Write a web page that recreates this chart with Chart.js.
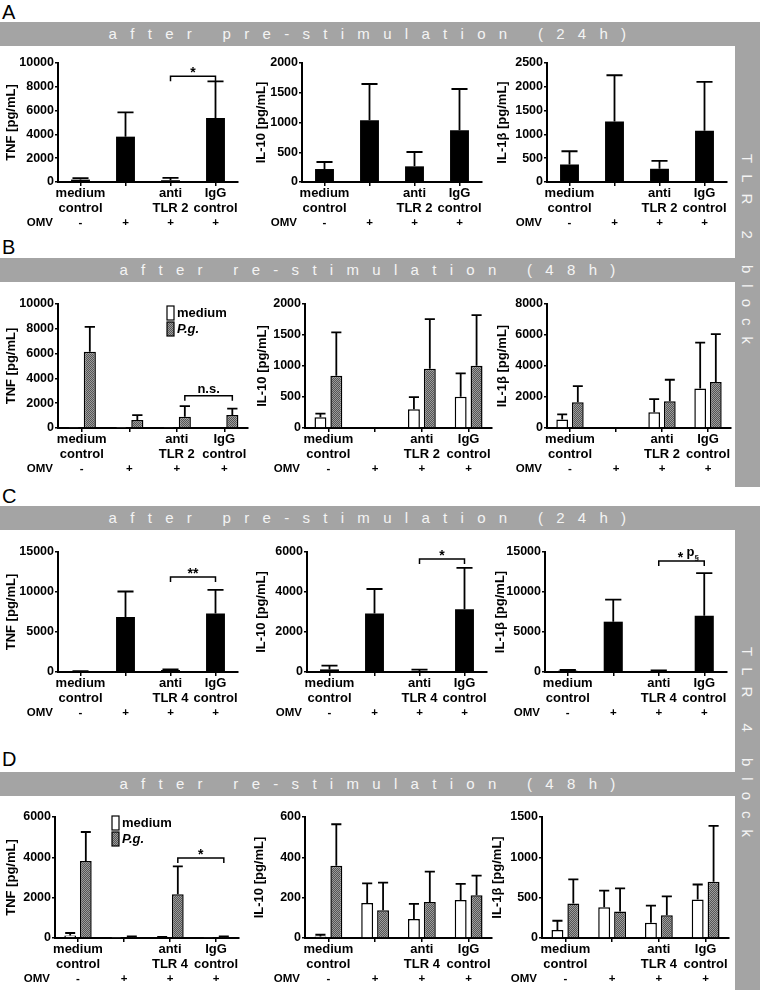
<!DOCTYPE html>
<html>
<head>
<meta charset="utf-8">
<script src="https://cdn.jsdelivr.net/npm/chart.js@4.4.1/dist/chart.umd.min.js"></script>
<style>
  body { margin: 0; background: #fff; width: 760px; height: 991px; position: relative; overflow: hidden;
         font-family: "Liberation Sans", Arial, Helvetica, sans-serif; }
  .band { position: absolute; left: 0; width: 760px; height: 24px; background: #a4a4a4; }
  .band div { position: absolute; left: 0; top: 0; width: 735px; padding-left: 13px; box-sizing: border-box;
              text-align: center; line-height: 24px; font-size: 15px; letter-spacing: 13.3px; color: #f4f4f4; white-space: pre; }
  .col { position: absolute; left: 735px; width: 25px; background: #a4a4a4; }
  .col div { position: absolute; left: 0; top: 0; width: 25px; height: 100%; writing-mode: vertical-rl;
             text-align: center; line-height: 25px; font-size: 15px; letter-spacing: 11px; color: #f4f4f4; white-space: pre; }
  .letter { position: absolute; left: 2px; font-size: 20px; line-height: 20px; color: #000; }
  canvas { position: absolute; }
</style>
</head>
<body>
<div class="letter" style="top:2px">A</div>
<div class="letter" style="top:237px">B</div>
<div class="letter" style="top:486px">C</div>
<div class="letter" style="top:749px">D</div>

<div class="band" style="top:22px"><div>after pre-stimulation (24h)</div></div>
<div class="band" style="top:258px"><div>after re-stimulation (48h)</div></div>
<div class="band" style="top:506px"><div>after pre-stimulation (24h)</div></div>
<div class="band" style="top:772px"><div>after re-stimulation (48h)</div></div>

<div class="col" style="top:22px;height:465px"><div>TLR 2 block</div></div>
<div class="col" style="top:506px;height:484px"><div>TLR 4 block</div></div>

<script>
// categories and labels
const tlr2Groups = [["medium", "control"], "", ["anti", "TLR 2"], ["IgG", "control"]];
const tlr4Groups = [["medium", "control"], "", ["anti", "TLR 4"], ["IgG", "control"]];
const omvSigns = ["-", "+", "+", "+"];
const seriesNames = ["medium", "P.g."];
const yTitles = ["TNF [pg/mL]", "IL-10 [pg/mL]", "IL-1β [pg/mL]"];

// y axis ranges per row: [TNF, IL-10, IL-1b]
const rowAMax = [10000, 2000, 2500];
const rowAStep = [2000, 500, 500];
const rowBMax = [10000, 2000, 8000];
const rowBStep = [2000, 500, 2000];
const rowCMax = [15000, 6000, 15000];
const rowCStep = [5000, 2000, 5000];
const rowDMax = [6000, 600, 1500];
const rowDStep = [2000, 200, 500];

// A: TLR2 block, after pre-stimulation (mean, top of error bar)
const aTnf = [200, 3810, 150, 5380];
const aTnfErr = [330, 5850, 340, 8460];
const aIl10 = [218, 1036, 263, 868];
const aIl10Err = [336, 1647, 504, 1563];
const aIl1b = [368, 1271, 278, 1076];
const aIl1bErr = [646, 2243, 444, 2104];

// B: TLR2 block, after re-stimulation
const bTnfMed = [90, 30, 40, 50];
const bTnfMedErr = [null, null, null, null];
const bTnfPg = [6140, 650, 910, 1040];
const bTnfPgErr = [8150, 1040, 1770, 1570];
const bIl10Med = [173, null, 303, 503];
const bIl10MedErr = [232, null, 497, 881];
const bIl10Pg = [843, null, 957, 1005];
const bIl10PgErr = [1541, null, 1757, 1822];
const bIl1bMed = [548, null, 1009, 2544];
const bIl1bMedErr = [877, null, 1864, 5504];
const bIl1bPg = [1667, null, 1732, 2961];
const bIl1bPgErr = [2697, null, 3114, 6053];

// C: TLR4 block, after pre-stimulation
const cTnf = [80, 6890, 250, 7310];
const cTnfErr = [120, 10060, 340, 10270];
const cIl10 = [130, 2925, 50, 3140];
const cIl10Err = [314, 4150, 116, 5207];
const cIl1b = [164, 6290, 123, 7030];
const cIl1bErr = [247, 9040, 205, 12370];

// D: TLR4 block, after re-stimulation
const dTnfMed = [130, 10, 40, 20];
const dTnfMedErr = [248, null, 60, null];
const dTnfPg = [3820, 50, 2165, 60];
const dTnfPgErr = [5256, 80, 3554, 80];
const dIl10Med = [8, 173, 94, 189];
const dIl10MedErr = [16, 271, 169, 268];
const dIl10Pg = [358, 137, 179, 212];
const dIl10PgErr = [564, 275, 329, 309];
const dIl1bMed = [99, 381, 190, 476];
const dIl1bMedErr = [214, 587, 401, 663];
const dIl1bPg = [429, 329, 282, 698];
const dIl1bPgErr = [726, 615, 516, 1389];

// significance bracket heights
const aTnfSig = 8880;
const bTnfSig = 2610;
const cTnfSig = 11870;
const cIl10Sig = 5650;
const cIl1bSig = 13890;
const dTnfSig = 3967;

Chart.defaults.font.family = "'Liberation Sans', Arial, Helvetica, sans-serif";
Chart.defaults.color = "#000";
Chart.defaults.animation = false;

// Draws the upper error whiskers
const errorBarPlugin = {
  id: "errorBars",
  afterDatasetsDraw(chart) {
    const ctx = chart.ctx;
    const yScale = chart.scales.y;
    chart.data.datasets.forEach(function (ds, i) {
      const meta = chart.getDatasetMeta(i);
      meta.data.forEach(function (bar, j) {
        const top = ds.errTop ? ds.errTop[j] : null;
        const val = ds.data[j];
        if (top == null || val == null || top <= val) return;
        const yTop = yScale.getPixelForValue(top);
        const cap = (bar.width * 0.85) / 2;
        ctx.save();
        ctx.strokeStyle = "#000";
        ctx.lineWidth = 1.8;
        ctx.beginPath();
        ctx.moveTo(bar.x, bar.y);
        ctx.lineTo(bar.x, yTop);
        ctx.moveTo(bar.x - cap, yTop);
        ctx.lineTo(bar.x + cap, yTop);
        ctx.stroke();
        ctx.restore();
      });
    });
  },
};

// Draws significance brackets
const sigPlugin = {
  id: "sig",
  afterDatasetsDraw(chart, args, opts) {
    if (!opts || opts.value == null) return;
    const ctx = chart.ctx;
    const a = chart.getDatasetMeta(opts.from[0]).data[opts.from[1]];
    const b = chart.getDatasetMeta(opts.to[0]).data[opts.to[1]];
    const y = chart.scales.y.getPixelForValue(opts.value);
    ctx.save();
    ctx.strokeStyle = "#000";
    ctx.lineWidth = 1.5;
    ctx.beginPath();
    ctx.moveTo(a.x, y + 5);
    ctx.lineTo(a.x, y);
    ctx.lineTo(b.x, y);
    ctx.lineTo(b.x, y + 5);
    ctx.stroke();
    const mid = (a.x + b.x) / 2;
    ctx.fillStyle = "#000";
    ctx.textAlign = "center";
    ctx.textBaseline = "alphabetic";
    const isStar = /^\*+$/.test(opts.text);
    ctx.font = "bold 14px 'Liberation Sans', Arial, sans-serif";
    if (opts.sub) {
      ctx.fillText(opts.text, mid - 1, y + 1);
      ctx.textAlign = "left";
      ctx.font = "bold 13px 'Liberation Sans', Arial, sans-serif";
      ctx.fillText(opts.sub[0], mid + 5, y - 5);
      const pw = ctx.measureText(opts.sub[0]).width;
      ctx.font = "bold 8px 'Liberation Sans', Arial, sans-serif";
      ctx.fillText(opts.sub[1], mid + 5 + pw, y - 1);
    } else {
      if (!isStar) ctx.font = "bold 13px 'Liberation Sans', Arial, sans-serif";
      ctx.fillText(opts.text, mid, isStar ? y + 1 : y - 3);
    }
    ctx.restore();
  },
};

// OMV -/+ row under the category labels
const omvPlugin = {
  id: "omvRow",
  afterDraw(chart) {
    const ctx = chart.ctx;
    const area = chart.chartArea;
    const xScale = chart.scales.x;
    const y = area.bottom + 41;
    ctx.save();
    ctx.fillStyle = "#000";
    ctx.textBaseline = "middle";
    ctx.font = "bold 11.5px 'Liberation Sans', Arial, sans-serif";
    ctx.textAlign = "right";
    ctx.fillText("OMV", area.left - 5, y);
    ctx.textAlign = "center";
    omvSigns.forEach(function (s, i) {
      ctx.fillText(s, xScale.getPixelForValue(i), y);
    });
    ctx.restore();
  },
};

// Small box legend (medium / P.g.)
const boxLegendPlugin = {
  id: "boxLegend",
  afterDraw(chart, args, opts) {
    if (!opts || opts.dx == null) return;
    const ctx = chart.ctx;
    const area = chart.chartArea;
    chart.data.datasets.forEach(function (ds, i) {
      const x = area.left + opts.dx;
      const y = area.top + opts.dy + i * 16;
      ctx.save();
      ctx.fillStyle = ds.backgroundColor;
      ctx.fillRect(x, y, 7, 14);
      ctx.strokeStyle = "#000";
      ctx.lineWidth = 1.2;
      ctx.strokeRect(x, y, 7, 14);
      ctx.fillStyle = "#000";
      ctx.textBaseline = "middle";
      ctx.textAlign = "left";
      ctx.font = (i === 1 ? "italic " : "") + "bold 13px 'Liberation Sans', Arial, sans-serif";
      ctx.fillText(ds.label, x + 10, y + 7.5);
      ctx.restore();
    });
  },
};

function makePattern(ctx) {
  const c = document.createElement("canvas");
  c.width = 2;
  c.height = 2;
  const g = c.getContext("2d");
  g.fillStyle = "#9c9c9c";
  g.fillRect(0, 0, 2, 2);
  g.fillStyle = "#555";
  g.fillRect(0, 0, 1, 1);
  g.fillRect(1, 1, 1, 1);
  return ctx.createPattern(c, "repeat");
}

function buildPanel(p) {
  const padL = 2, padT = 12, padR = 10, padB = 2, xH = 52;
  const yW = Math.round(p.gap + 8);
  const w = Math.round(padL + yW + p.plotW + padR);
  const h = padT + (p.zeroY - p.topY) + xH + padB;
  const canvas = document.createElement("canvas");
  canvas.width = w;
  canvas.height = h;
  canvas.style.left = p.axisX - yW - padL + "px";
  canvas.style.top = p.topY - padT + "px";
  canvas.style.width = w + "px";
  canvas.style.height = h + "px";
  document.body.appendChild(canvas);
  const ctx = canvas.getContext("2d");

  let datasets;
  if (p.series.length === 1) {
    datasets = [{
      label: "",
      data: p.series[0][0],
      errTop: p.series[0][1],
      backgroundColor: "#000",
      borderWidth: 0,
      barPercentage: 0.42,
      categoryPercentage: 1,
    }];
  } else {
    datasets = [{
      label: seriesNames[0],
      data: p.series[0][0],
      errTop: p.series[0][1],
      backgroundColor: "#fff",
      borderColor: "#000",
      borderWidth: 1.5,
      barPercentage: 0.75,
      categoryPercentage: 0.68,
    }, {
      label: seriesNames[1],
      data: p.series[1][0],
      errTop: p.series[1][1],
      backgroundColor: makePattern(ctx),
      borderColor: "#000",
      borderWidth: 1.5,
      barPercentage: 0.75,
      categoryPercentage: 0.68,
    }];
  }

  return new Chart(ctx, {
    type: "bar",
    data: { labels: p.groups, datasets: datasets },
    plugins: [errorBarPlugin, sigPlugin, omvPlugin, boxLegendPlugin],
    options: {
      responsive: false,
      animation: false,
      layout: { padding: { left: padL, top: padT, right: padR, bottom: padB } },
      scales: {
        x: {
          type: "category",
          offset: true,
          afterFit: function (scale) { scale.height = xH; },
          grid: { offset: false, drawOnChartArea: false, drawTicks: true, tickLength: 4, color: "#000", lineWidth: 1.5 },
          border: { display: true, color: "#000", width: 2 },
          ticks: {
            autoSkip: false,
            maxRotation: 0,
            padding: 0,
            color: "#000",
            font: { size: 13, weight: "bold", lineHeight: 1.15 },
          },
        },
        y: {
          min: 0,
          max: p.yMax,
          afterFit: function (scale) { scale.width = yW; },
          grid: { drawOnChartArea: false, drawTicks: true, tickLength: 3, color: "#000", lineWidth: 1.5 },
          border: { display: true, color: "#000", width: 2 },
          ticks: {
            stepSize: p.yStep,
            padding: 1,
            color: "#000",
            font: { size: 12.5, weight: "bold" },
            callback: function (v) { return String(v); },
          },
          title: {
            display: true,
            text: p.yTitle,
            padding: 0,
            color: "#000",
            font: { size: 13, weight: "bold" },
          },
        },
      },
      plugins: {
        legend: { display: false },
        tooltip: { enabled: false },
        sig: p.sig || {},
        boxLegend: p.legend || {},
      },
    },
  });
}

const panels = [
  // row A
  { axisX: 58, gap: 46, topY: 63, zeroY: 182, plotW: 180, groups: tlr2Groups, yTitle: yTitles[0],
    yMax: rowAMax[0], yStep: rowAStep[0], series: [[aTnf, aTnfErr]],
    sig: { from: [0, 2], to: [0, 3], value: aTnfSig, text: "*" } },
  { axisX: 302, gap: 40, topY: 63, zeroY: 182, plotW: 180, groups: tlr2Groups, yTitle: yTitles[1],
    yMax: rowAMax[1], yStep: rowAStep[1], series: [[aIl10, aIl10Err]] },
  { axisX: 547, gap: 44, topY: 63, zeroY: 182, plotW: 180, groups: tlr2Groups, yTitle: yTitles[2],
    yMax: rowAMax[2], yStep: rowAStep[2], series: [[aIl1b, aIl1bErr]] },
  // row B
  { axisX: 58, gap: 46, topY: 304, zeroY: 428, plotW: 190, groups: tlr2Groups, yTitle: yTitles[0],
    yMax: rowBMax[0], yStep: rowBStep[0], series: [[bTnfMed, bTnfMedErr], [bTnfPg, bTnfPgErr]],
    sig: { from: [1, 2], to: [1, 3], value: bTnfSig, text: "n.s." }, legend: { dx: 109, dy: 2 } },
  { axisX: 305, gap: 42, topY: 304, zeroY: 428, plotW: 187, groups: tlr2Groups, yTitle: yTitles[1],
    yMax: rowBMax[1], yStep: rowBStep[1], series: [[bIl10Med, bIl10MedErr], [bIl10Pg, bIl10PgErr]] },
  { axisX: 547, gap: 44, topY: 304, zeroY: 428, plotW: 184, groups: tlr2Groups, yTitle: yTitles[2],
    yMax: rowBMax[2], yStep: rowBStep[2], series: [[bIl1bMed, bIl1bMedErr], [bIl1bPg, bIl1bPgErr]] },
  // row C
  { axisX: 58, gap: 46, topY: 552, zeroY: 672, plotW: 180, groups: tlr4Groups, yTitle: yTitles[0],
    yMax: rowCMax[0], yStep: rowCStep[0], series: [[cTnf, cTnfErr]],
    sig: { from: [0, 2], to: [0, 3], value: cTnfSig, text: "**" } },
  { axisX: 307, gap: 45, topY: 552, zeroY: 672, plotW: 180, groups: tlr4Groups, yTitle: yTitles[1],
    yMax: rowCMax[1], yStep: rowCStep[1], series: [[cIl10, cIl10Err]],
    sig: { from: [0, 2], to: [0, 3], value: cIl10Sig, text: "*" } },
  { axisX: 545, gap: 44, topY: 552, zeroY: 672, plotW: 182, groups: tlr4Groups, yTitle: yTitles[2],
    yMax: rowCMax[2], yStep: rowCStep[2], series: [[cIl1b, cIl1bErr]],
    sig: { from: [0, 2], to: [0, 3], value: cIl1bSig, text: "*", sub: ["p", "§"] } },
  // row D
  { axisX: 55, gap: 43, topY: 817, zeroY: 938, plotW: 184, groups: tlr4Groups, yTitle: yTitles[0],
    yMax: rowDMax[0], yStep: rowDStep[0], series: [[dTnfMed, dTnfMedErr], [dTnfPg, dTnfPgErr]],
    sig: { from: [1, 2], to: [1, 3], value: dTnfSig, text: "*" }, legend: { dx: 57, dy: -1 } },
  { axisX: 305, gap: 45, topY: 817, zeroY: 938, plotW: 187, groups: tlr4Groups, yTitle: yTitles[1],
    yMax: rowDMax[1], yStep: rowDStep[1], series: [[dIl10Med, dIl10MedErr], [dIl10Pg, dIl10PgErr]] },
  { axisX: 542, gap: 44, topY: 817, zeroY: 938, plotW: 187, groups: tlr4Groups, yTitle: yTitles[2],
    yMax: rowDMax[2], yStep: rowDStep[2], series: [[dIl1bMed, dIl1bMedErr], [dIl1bPg, dIl1bPgErr]] },
];

panels.forEach(buildPanel);
</script>
</body>
</html>
